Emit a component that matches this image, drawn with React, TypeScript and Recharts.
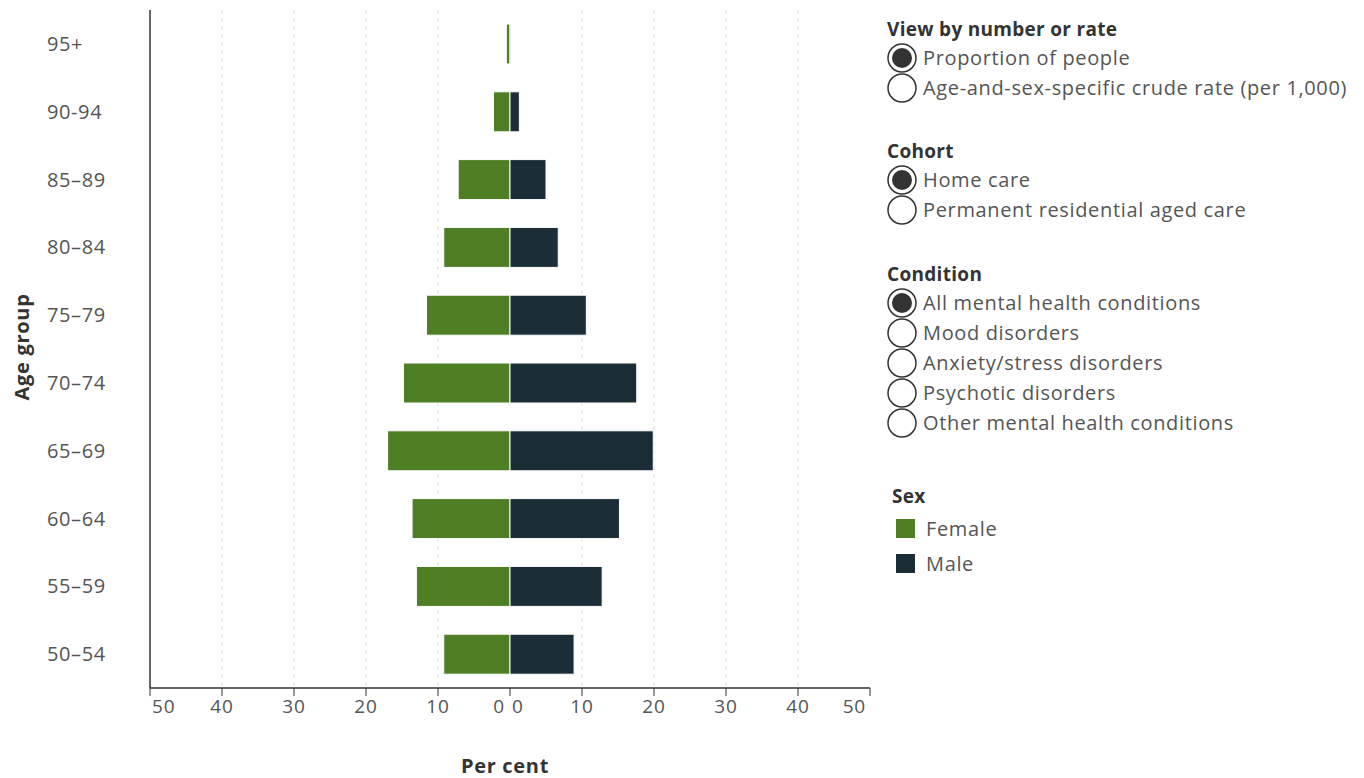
import React from 'react';
import { BarChart, Bar, XAxis, YAxis, CartesianGrid } from 'recharts';

// Age groups, top to bottom
const ageGroups = ['95+', '90-94', '85–89', '80–84', '75–79', '70–74', '65–69', '60–64', '55–59', '50–54'];

// Per cent of people
const femaleValues = [0.5, 2.3, 7.2, 9.2, 11.6, 14.8, 17.0, 13.6, 13.0, 9.2];
const maleValues = [0.1, 1.3, 5.0, 6.7, 10.6, 17.6, 19.9, 15.2, 12.8, 8.9];

const xTicks = [-50, -40, -30, -20, -10, 0, 10, 20, 30, 40, 50];
const gridTicks = [-40, -30, -20, -10, 10, 20, 30, 40];

const viewOptions = ['Proportion of people', 'Age-and-sex-specific crude rate (per 1,000)'];
const cohortOptions = ['Home care', 'Permanent residential aged care'];
const conditionOptions = [
  'All mental health conditions',
  'Mood disorders',
  'Anxiety/stress disorders',
  'Psychotic disorders',
  'Other mental health conditions',
];

const FEMALE = '#4E7F25';
const MALE = '#1B2E38';
const FONT = '"Open Sans", "Noto Sans", sans-serif';

const rows = ageGroups.map((age, i) => ({
  age,
  female: -femaleValues[i],
  male: maleValues[i],
}));

const XTick = (props: any) => {
  const { x, y, payload } = props;
  const v = payload.value as number;
  const style = { fill: '#555', fontSize: 19, fontFamily: FONT, letterSpacing: 0.8 };
  if (v === 0) {
    return (
      <g>
        <text x={x - 5} y={y} dy={15} textAnchor="end" {...style}>0</text>
        <text x={x + 2} y={y} dy={15} textAnchor="start" {...style}>0</text>
      </g>
    );
  }
  let anchor: 'start' | 'middle' | 'end' = 'middle';
  let dx = 0;
  if (v === -50) { anchor = 'start'; dx = 2; }
  if (v === 50) { anchor = 'end'; dx = -4; }
  return (
    <text x={x + dx} y={y} dy={15} textAnchor={anchor} {...style}>{Math.abs(v)}</text>
  );
};

const YTick = (props: any) => {
  const { y, payload } = props;
  return (
    <text x={47} y={y} dy={7} textAnchor="start" fill="#555" fontSize={20} letterSpacing={0.6} fontFamily={FONT}>
      {payload.value}
    </text>
  );
};

const Radio = ({ checked, top }: { checked: boolean; top: number }) => (
  <svg width={32} height={32} style={{ position: 'absolute', left: 886, top: top - 16 }}>
    <circle cx={16} cy={16} r={14} fill="#fff" stroke="#333" strokeWidth={1.5} />
    {checked && <circle cx={16} cy={16} r={10} fill="#333" />}
  </svg>
);

const optionStyle: React.CSSProperties = {
  position: 'absolute',
  lineHeight: '30px',
  fontSize: 20,
  letterSpacing: 0.65,
  color: '#555',
  whiteSpace: 'nowrap',
};

const headerStyle: React.CSSProperties = {
  position: 'absolute',
  lineHeight: '30px',
  fontSize: 19,
  letterSpacing: 0.3,
  fontWeight: 700,
  color: '#333',
  whiteSpace: 'nowrap',
};

const Group = ({ title, options, top }: { title: string; options: string[]; top: number }) => (
  <>
    <div style={{ ...headerStyle, left: 887, top: top - 15 }}>{title}</div>
    {options.map((opt, i) => {
      const cy = top + 29 + i * 30;
      return (
        <React.Fragment key={opt}>
          <Radio checked={i === 0} top={cy} />
          <div style={{ ...optionStyle, left: 923, top: cy - 15 }}>{opt}</div>
        </React.Fragment>
      );
    })}
  </>
);

const App: React.FC = () => {
  return (
    <div style={{ position: 'absolute', left: 0, top: 0, width: 1364, height: 778, background: '#fff', fontFamily: FONT }}>
      <BarChart
        width={880}
        height={778}
        layout="vertical"
        data={rows}
        stackOffset="sign"
        margin={{ top: 10, right: 10, left: 0, bottom: 50 }}
      >
        <CartesianGrid horizontal={false} verticalValues={gridTicks} stroke="#ddd" strokeDasharray="4 4" />
        <XAxis
          type="number"
          domain={[-50, 50]}
          ticks={xTicks}
          height={40}
          tickSize={8}
          tick={<XTick />}
          tickLine={{ stroke: '#333' }}
          axisLine={{ stroke: '#333', strokeWidth: 1.5 }}
          label={{
            content: (p: any) => (
              <text x={p.viewBox.x + p.viewBox.width / 2 - 5} y={773} textAnchor="middle" fill="#333" fontSize={20} letterSpacing={0.7} fontWeight={700} fontFamily={FONT}>
                Per cent
              </text>
            ),
          }}
        />
        <YAxis
          type="category"
          dataKey="age"
          width={150}
          tickLine={false}
          tick={<YTick />}
          axisLine={{ stroke: '#333', strokeWidth: 1.5 }}
          label={{
            content: (p: any) => {
              const cy = p.viewBox.y + p.viewBox.height / 2 - 2;
              return (
                <text x={29} y={cy} transform={`rotate(-90 29 ${cy})`} textAnchor="middle" fill="#333" fontSize={20} letterSpacing={0.7} fontWeight={700} fontFamily={FONT}>
                  Age group
                </text>
              );
            },
          }}
        />
        <Bar dataKey="female" stackId="a" fill={FEMALE} stroke="#fff" strokeWidth={1} barSize={40} isAnimationActive={false} />
        <Bar dataKey="male" stackId="a" fill={MALE} stroke="#fff" strokeWidth={1} barSize={40} isAnimationActive={false} />
      </BarChart>

      <Group title="View by number or rate" options={viewOptions} top={29} />
      <Group title="Cohort" options={cohortOptions} top={151} />
      <Group title="Condition" options={conditionOptions} top={274} />

      <div style={{ ...headerStyle, left: 892, top: 481 }}>Sex</div>
      {[{ name: 'Female', color: FEMALE, cy: 529 }, { name: 'Male', color: MALE, cy: 564 }].map((s) => (
        <React.Fragment key={s.name}>
          <div style={{ position: 'absolute', left: 896, top: s.cy - 10, width: 19, height: 19, background: s.color }} />
          <div style={{ ...optionStyle, left: 926, top: s.cy - 15 }}>{s.name}</div>
        </React.Fragment>
      ))}
    </div>
  );
};

export default App;
